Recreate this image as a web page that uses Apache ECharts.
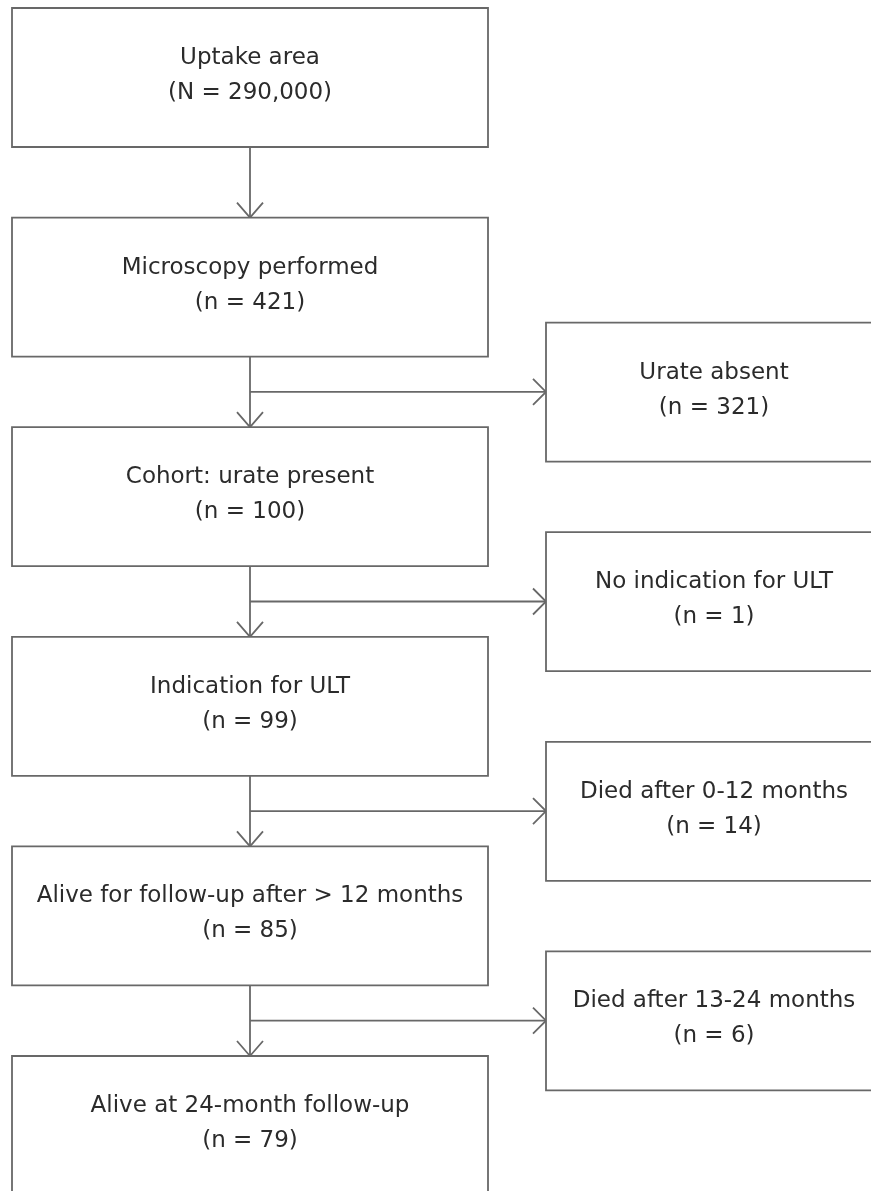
<!DOCTYPE html>
<html lang="en">
  <head>
    <meta charset="UTF-8" />
    <title>Cohort flow diagram</title>
    <script src="https://cdn.jsdelivr.net/npm/echarts@6/dist/echarts.min.js"></script>
    <style>
      html, body { margin: 0; padding: 0; background: #fff; }
      #main { width: 871px; height: 1191px; }
    </style>
  </head>
  <body>
    <div id="main"></div>

    <script>
      // main column of the flow
      const mainLabels = [
        'Uptake area',
        'Microscopy performed',
        'Cohort: urate present',
        'Indication for ULT',
        'Alive for follow-up after > 12 months',
        'Alive at 24-month follow-up',
      ];
      const mainSymbols = ['N', 'n', 'n', 'n', 'n', 'n'];
      const mainCounts = [290000, 421, 100, 99, 85, 79];

      // side exclusions, one after each of steps 2..5
      const exitLabels = [
        'Urate absent',
        'No indication for ULT',
        'Died after 0-12 months',
        'Died after 13-24 months',
      ];
      const exitCounts = [321, 1, 14, 6];

      const W = 871;
      const H = 1191;
      const lineColor = '#686868';
      const textColor = '#2b2b2b';

      // layout in pixel units of the hidden axes
      const rowStep = 209.6;
      const boxH = 139;
      const mainX0 = 12, mainX1 = 488, stemX = 250;
      const exitX0 = 546, exitX1 = 882;
      const mainTop = (i) => 8 + i * rowStep;
      const exitTop = (j) => mainTop(j + 1) + 105;
      const branchY = (j) => mainTop(j + 1) + boxH + (rowStep - boxH) / 2;

      function fmt(v) {
        return v.toLocaleString('en-US');
      }

      function boxItem(api, x0, y0, x1, y1, text) {
        const p0 = api.coord([x0, y0]);
        const p1 = api.coord([x1, y1]);
        return {
          type: 'group',
          children: [
            {
              type: 'rect',
              shape: { x: p0[0], y: p0[1], width: p1[0] - p0[0], height: p1[1] - p0[1] },
              style: { fill: '#fff', stroke: lineColor, lineWidth: 1.8 },
            },
            {
              type: 'text',
              x: (p0[0] + p1[0]) / 2,
              y: (p0[1] + p1[1]) / 2 - 2,
              style: {
                text: text,
                fill: textColor,
                font: '23px "DejaVu Sans", sans-serif',
                align: 'center',
                verticalAlign: 'middle',
                lineHeight: 35,
              },
            },
          ],
        };
      }

      const boxData = [];
      mainLabels.forEach((label, i) => {
        boxData.push({
          value: [stemX, mainTop(i)],
          name: label + '\n(' + mainSymbols[i] + ' = ' + fmt(mainCounts[i]) + ')',
          side: 'main',
          idx: i,
        });
      });
      exitLabels.forEach((label, j) => {
        boxData.push({
          value: [exitX0, exitTop(j)],
          name: label + '\n(n = ' + fmt(exitCounts[j]) + ')',
          side: 'exit',
          idx: j,
        });
      });

      // connectors: down arrows between main boxes, side arrows to exits
      const linkData = [];
      for (let i = 0; i < mainLabels.length - 1; i++) {
        linkData.push({ value: [stemX, mainTop(i) + boxH], dir: 'down', idx: i });
      }
      for (let j = 0; j < exitLabels.length; j++) {
        linkData.push({ value: [stemX, branchY(j)], dir: 'right', idx: j });
      }

      const options = {
        animation: false,
        grid: { left: 0, right: 0, top: 0, bottom: 0 },
        xAxis: { type: 'value', min: 0, max: W, show: false },
        yAxis: { type: 'value', min: 0, max: H, inverse: true, show: false },
        series: [
          {
            type: 'custom',
            name: 'links',
            data: linkData,
            silent: true,
            renderItem: function (params, api) {
              const d = linkData[params.dataIndex];
              let a, b, head;
              if (d.dir === 'down') {
                a = api.coord([stemX, mainTop(d.idx) + boxH]);
                b = api.coord([stemX, mainTop(d.idx + 1)]);
                head = [[b[0] - 13, b[1] - 15], [b[0], b[1]], [b[0] + 13, b[1] - 15]];
              } else {
                a = api.coord([stemX, branchY(d.idx)]);
                b = api.coord([exitX0, branchY(d.idx)]);
                head = [[b[0] - 13, b[1] - 13], [b[0], b[1]], [b[0] - 13, b[1] + 13]];
              }
              const st = { stroke: lineColor, lineWidth: 1.8, fill: null };
              return {
                type: 'group',
                children: [
                  { type: 'line', shape: { x1: a[0], y1: a[1], x2: b[0], y2: b[1] }, style: st },
                  { type: 'polyline', shape: { points: head }, style: st },
                ],
              };
            },
          },
          {
            type: 'custom',
            name: 'boxes',
            data: boxData,
            silent: true,
            renderItem: function (params, api) {
              const d = boxData[params.dataIndex];
              if (d.side === 'main') {
                const y0 = mainTop(d.idx);
                return boxItem(api, mainX0, y0, mainX1, y0 + boxH, d.name);
              }
              const y0 = exitTop(d.idx);
              return boxItem(api, exitX0, y0, exitX1, y0 + boxH, d.name);
            },
          },
        ],
      };

      var myChart = echarts.init(document.getElementById('main'));
      myChart.setOption(options);
    </script>
  </body>
</html>
